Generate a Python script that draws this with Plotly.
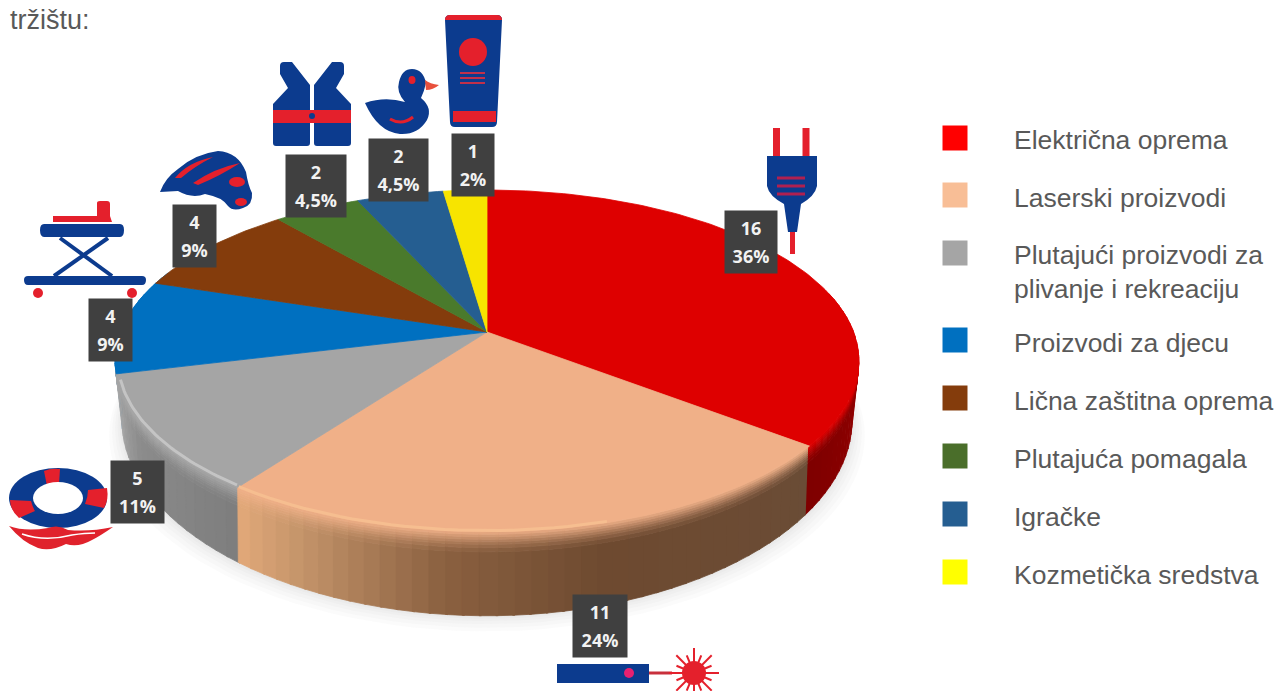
import numpy as np
import plotly.graph_objects as go

# ---------- data ----------
categories = ["Električna oprema", "Laserski proizvodi", "Plutajući proizvodi za<br>plivanje i rekreaciju",
              "Proizvodi za djecu", "Lična zaštitna oprema", "Plutajuća pomagala", "Igračke", "Kozmetička sredstva"]
counts = [16, 11, 5, 4, 4, 2, 2, 1]
percents = ["36%", "24%", "11%", "9%", "9%", "4,5%", "4,5%", "2%"]
heading = "tržištu:"

# ---------- style ----------
top_colors = ["#DE0000", "#F0B088", "#A5A5A5", "#0070C0", "#843C0C", "#4A7A2C", "#255E91", "#F7E400"]
legend_colors = ["#FF0000", "#F8BE96", "#A5A5A5", "#0070C0", "#843C0C", "#4A6E2A", "#255E91", "#FFFF00"]
side_stops = [
    [(80, "#A00000"), (128, "#7E0000")],
    [(128, "#6A4C36"), (165, "#6E4A30"), (185, "#8A6040"), (205, "#C4946A"), (216, "#E4AA7A")],
    [(216, "#7E7E7E"), (240, "#8C8C8C"), (256, "#ABABAB")],
    [(256, "#005F9F"), (290, "#005F9F")],
]
NAVY = "#0C3B8E"
RED = "#E4202C"
TEXT = "#595959"

# ---------- projection of the tilted disc onto the page ----------
CX, CY, R, H, K = 487, 332, 366.6, 166, 0.169


def project(theta_deg, radius=1.0):
    t = np.radians(theta_deg)
    u, v = radius * np.sin(t), radius * np.cos(t)
    w = 1 + K * v
    return CX + R * u / w, CY - H * v / w


def depth(theta_deg):
    v = np.cos(np.radians(theta_deg))
    return 57 + 27 * v * v


def lower_x(x, theta_deg):
    v = np.cos(np.radians(theta_deg))
    return CX + (x - CX) * (1 - 0.02 * (1 - v * v) ** 2)


def hex2rgb(c):
    return np.array([int(c[i:i + 2], 16) for i in (1, 3, 5)], float)


def mix(a, b, f):
    m = hex2rgb(a) * (1 - f) + hex2rgb(b) * f
    return "#%02X%02X%02X" % tuple(int(round(x)) for x in m)


def side_color(i, th):
    stops = side_stops[i]
    angles = [s[0] for s in stops]
    if th <= angles[0]:
        return stops[0][1]
    for (a0, c0), (a1, c1) in zip(stops, stops[1:]):
        if th <= a1:
            return mix(c0, c1, (th - a0) / (a1 - a0))
    return stops[-1][1]


total = sum(counts)
edges = np.cumsum([0] + counts) / total * 360

fig = go.Figure()


def poly(xs, ys, color, opacity=None):
    tr = go.Scatter(x=list(xs), y=list(ys), mode="lines", fill="toself", fillcolor=color,
                    line=dict(color=color, width=0.8 if opacity is None else 0),
                    hoverinfo="skip", showlegend=False)
    if opacity is not None:
        tr.opacity = opacity
    fig.add_trace(tr)


# soft shadow under the disc
for grow in (26, 20, 14, 9, 5, 2):
    th = np.linspace(60, 300, 90)
    x, y = project(th)
    d = depth(th)
    poly(lower_x(x, th) + np.sin(np.radians(th)) * grow * 0.5, y + d + grow * 0.6, "#808080", 0.035)

# extruded side, far segments first
segs = np.linspace(76, 292, 100)
mids = (segs[:-1] + segs[1:]) / 2
order = np.argsort(-np.cos(np.radians(mids)))
band_edges = [0, .03, .06, .09, .12, .15, .19, .24, 1]
band_mix = [.12, .26, .40, .54, .68, .80, .92, 1]
for j in order:
    a, b = segs[j], segs[j + 1]
    m = (a + b) / 2
    idx = min(int(np.searchsorted(edges, m) - 1), 3)
    sc = side_color(idx, m)
    tc = top_colors[idx]
    tt = np.array([a, b + 0.3])
    x, y = project(tt)
    d = depth(tt)
    xl = lower_x(x, tt)
    for k in reversed(range(len(band_mix))):
        f0, f1 = band_edges[k], band_edges[k + 1]
        poly([x[0] + (xl[0] - x[0]) * f0, x[1] + (xl[1] - x[1]) * f0, x[1] + (xl[1] - x[1]) * f1, x[0] + (xl[0] - x[0]) * f1],
             [y[0] + d[0] * f0, y[1] + d[1] * f0, y[1] + d[1] * f1, y[0] + d[0] * f1], mix(tc, sc, band_mix[k]))

# top faces
for i, col in enumerate(top_colors):
    th = np.linspace(edges[i], edges[i + 1], max(8, int(counts[i] * 8)))
    x, y = project(th)
    poly(np.r_[CX, x, CX], np.r_[CY, y, CY], col)

# light bevel on the rim of the grey and peach faces
th = np.linspace(edges[2] + 0.5, edges[3] - 2, 40)
x, y = project(th, 0.992)
fig.add_trace(go.Scatter(x=x, y=y, mode="lines", line=dict(color="#C4C4C4", width=3), hoverinfo="skip", showlegend=False))
th = np.linspace(edges[1] + 36, edges[2], 30)
x, y = project(th, 0.995)
fig.add_trace(go.Scatter(x=x, y=y, mode="lines", line=dict(color="#F6BE90", width=3), hoverinfo="skip", showlegend=False))

# legend swatches
legend_y = [138, 195, 253, 340, 398, 456, 514, 572]
fig.add_trace(go.Scatter(x=[955] * 8, y=legend_y, mode="markers",
                         marker=dict(symbol="square", size=25, color=legend_colors, line=dict(width=0)),
                         hoverinfo="skip", showlegend=False))

# ---------- decoration: icons (page pixels) ----------
shapes = []


def path(d, fill=NAVY, line=None, w=0):
    shapes.append(dict(type="path", path=d, xref="x", yref="y", fillcolor=fill, layer="above",
                       line=dict(color=line or fill, width=w)))


def seg(x0, y0, x1, y1, col, w):
    shapes.append(dict(type="line", x0=x0, y0=y0, x1=x1, y1=y1, xref="x", yref="y", layer="above",
                       line=dict(color=col, width=w)))


def circ(cx, cy, rx, ry, col):
    shapes.append(dict(type="circle", x0=cx - rx, x1=cx + rx, y0=cy - ry, y1=cy + ry, xref="x", yref="y",
                       layer="above", fillcolor=col, line=dict(width=0)))


# plug
seg(776.5, 128, 776.5, 156, RED, 7)
seg(806, 128, 806, 156, RED, 7)
seg(792.5, 230, 792.5, 254, RED, 5)
path("M767,156 L817,156 L817,186 Q815,196 801,204 L797,232 L788,232 L784,204 Q769,196 767,186 Z")
for yy in (178, 186, 194):
    seg(777, yy, 805, yy, "#B02050", 3)
# tube
path("M445,20 Q445,15 450,15 L497,15 Q502,15 502,20 L497,122 Q497,127 492,127 L455,127 Q450,127 450,122 Z")
path("M445,20 Q445,15 450,15 L497,15 Q502,15 502,20 Z", RED)
path("M453,111 L496,111 L496,122 L453,122 Z", RED)
circ(473, 52, 14, 14, RED)
for yy in (73, 78, 83):
    seg(460, yy, 485, yy, "#C0304A", 2)
# duck
path("M365,103 Q385,96 405,102 Q396,92 399,82 Q402,69 412,69 Q423,69 426,83 Q424,92 421,98 Q433,108 427,120 "
     "Q418,135 400,134 Q378,132 365,103 Z")
path("M425,80 Q430,84 439,85 Q433,90 426,90 Z", "#E8503C")
circ(412, 80, 3.5, 4, RED)
shapes.append(dict(type="path", path="M390,119 Q402,126 413,117", xref="x", yref="y", layer="above",
                   line=dict(color=RED, width=3)))
# life vest
path("M280,66 Q280,62 284,62 L292,62 L310,85 L310,143 Q310,146 307,146 L276,146 Q273,146 273,143 L273,104 L288,88 L280,74 Z")
path("M344,66 Q344,62 340,62 L332,62 L314,85 L314,143 Q314,146 317,146 L348,146 Q351,146 351,143 L351,104 L336,88 L344,74 Z")
path("M273,110 L351,110 L351,123 L273,123 Z", RED)
circ(312, 116, 3, 3, NAVY)
# helmet
path("M160,192 Q165,178 178,169 Q195,154 218,151 Q238,152 246,172 Q248,185 252,193 Q253,205 243,208 Q233,212 228,206 "
     "Q222,197 205,194 Q192,199 178,191 Z")
path("M175,178 Q188,162 213,157 Q195,166 181,178 Z", RED)
path("M193,183 Q215,168 240,163 Q220,176 198,185 Z", RED)
circ(237, 182, 8, 5, RED)
circ(241, 202, 6, 4, RED)
# baby walker
path("M53,216 L97,216 L97,203 Q97,201 100,201 L107,201 Q110,201 110,204 L110,216 L112,222 L53,222 Z", RED)
path("M44,224 L120,224 Q124,224 124,230 Q124,237 120,237 L44,237 Q40,237 40,230 Q40,224 44,224 Z")
seg(54, 276, 108, 238, NAVY, 4)
seg(60, 238, 112, 276, NAVY, 4)
path("M28,276 L142,276 Q146,276 146,280 Q146,285 142,285 L28,285 Q24,285 24,280 Q24,276 28,276 Z")
circ(38, 293, 5, 5, RED)
circ(132, 293, 5, 5, RED)
# life ring
circ(58, 498, 49, 30, NAVY)
path("M44,471 Q51,468 60,469 L59,484 Q52,484 47,486 Z", RED)
path("M10,500 L31,501 Q33,508 35,511 L19,518 Q10,510 10,500 Z", RED)
path("M88,490 L107,488 Q109,500 104,508 L85,504 Q88,497 88,490 Z", RED)
circ(58, 498, 25, 16, "#FFFFFF")
path("M9,526 Q25,532 48,528 Q58,524 68,530 Q90,532 113,527 Q100,536 92,540 Q78,548 66,544 Q50,552 38,548 Q22,542 9,526 Z", "#E0222C")
shapes.append(dict(type="path", path="M22,534 Q45,542 72,535 Q85,533 95,533", xref="x", yref="y", layer="above",
                   line=dict(color="#FFFFFF", width=1.5)))
# laser
path("M557,664 L649,664 L649,683 L557,683 Z")
circ(629, 673, 5, 5, "#E82070")
seg(649, 673, 672, 673, "#C8303C", 3)
for ang in np.arange(0, 360, 22.5):
    c, s = np.cos(np.radians(ang)), np.sin(np.radians(ang))
    L = 25 if int(ang / 22.5) % 2 == 0 else 19
    seg(694, 673, 694 + L * c, 673 + L * s, RED, 2)
circ(694, 673, 12, 12, RED)

# value boxes
box_x = [751, 600, 137.5, 110.5, 194.5, 316, 398.5, 473]
box_y = [241.5, 625.5, 491.5, 330, 235.5, 186, 169.5, 165]
box_w = [52, 54, 53, 43, 43, 60, 59, 42]
annotations = []
for i in range(8):
    annotations.append(dict(x=box_x[i], y=box_y[i], xref="x", yref="y", showarrow=False,
                            text="<b><span style='font-size:18px'>%d</span><br><span style='font-size:18px'>%s</span></b>"
                                 % (counts[i], percents[i]),
                            width=box_w[i], height=62, bgcolor="#404040", align="center", valign="middle", borderpad=0,
                            font=dict(family="Open Sans", size=22, color="#F2F2F2")))
# legend text and heading
for cat, yy in zip(categories, [140, 198, 272, 343, 401, 459, 517, 575]):
    annotations.append(dict(x=1012, y=yy, xref="x", yref="y", xanchor="left", yanchor="middle", showarrow=False,
                            text=cat, align="left", font=dict(family="Liberation Sans", size=26.5, color=TEXT)))
annotations.append(dict(x=8, y=20, xref="x", yref="y", xanchor="left", yanchor="middle", showarrow=False,
                        text=heading, font=dict(family="Liberation Sans", size=27, color=TEXT)))

fig.update_layout(width=1287, height=691, margin=dict(l=0, r=0, t=0, b=0), paper_bgcolor="#FFFFFF",
                  plot_bgcolor="#FFFFFF", showlegend=False, shapes=shapes, annotations=annotations,
                  xaxis=dict(range=[0, 1287], visible=False, fixedrange=True),
                  yaxis=dict(range=[691, 0], visible=False, fixedrange=True))
fig.write_html("out.html", config=dict(displayModeBar=False),
               post_script="document.body.style.margin='0';document.body.style.overflow='hidden';")
